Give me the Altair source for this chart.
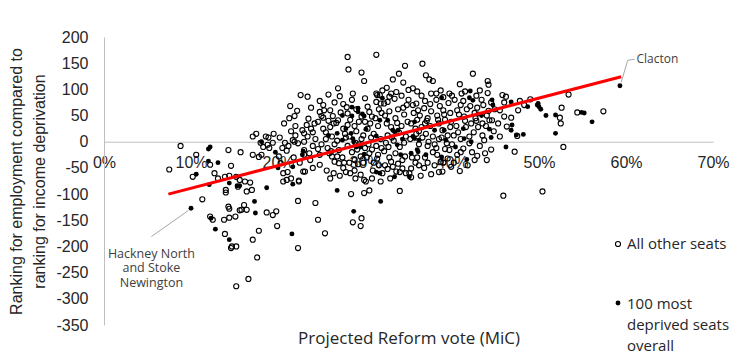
import altair as alt
import pandas as pd

# ---- data: (projected Reform vote %, ranking difference) ----
other_below20 = [
    (7.5, -53), (8.8, -8), (10.6, -25), (10.2, -67), (12.2, -44), (12.7, -60), (14.3, -16),
    (15.7, -20), (14.6, -46), (13.1, -70), (13.9, -67), (14.4, -65), (15.2, -67), (15.6, -73),
    (15.4, -86), (16.2, -76), (16.8, -78), (14.0, -92), (14.0, -97), (16.4, -95), (17.0, -92),
    (18.0, -2), (18.8, -6), (19.4, -2), (18.3, -10), (17.1, 10), (17.5, 15), (18.6, 10), (18.9, 8),
    (19.0, -12), (18.1, -25), (17.1, -25), (17.8, -29), (11.3, -110), (16.1, -121), (16.4, -130),
    (15.8, -130), (15.6, -131), (15.1, -143), (14.4, -145), (13.8, -149), (14.3, -124), (14.4, -128),
    (18.7, -135), (19.4, -140), (19.8, -133), (12.2, -143), (12.5, -149), (13.9, -176), (14.7, -200),
    (14.6, -203), (15.2, -200), (19.9, -161), (17.8, -170), (17.1, -187), (17.6, -221), (16.6, -262),
    (15.2, -276), (19.5, 15),
]
other_20_25 = [
    (20.3, -41), (20.6, -60), (21.0, -73), (20.6, -76), (21.0, -17), (21.1, -58), (21.5, -70),
    (22.4, -74), (22.9, -57), (23.1, -57), (24.8, -44), (23.0, -25), (23.6, -22), (23.0, -16),
    (24.8, -25), (21.4, 68), (22.2, 59), (21.9, 49), (22.6, 89), (23.4, 86), (24.8, 78), (25.2, 70),
    (24.8, 57), (25.0, 49), (25.2, 46), (23.3, 32), (23.8, 25), (24.2, 35), (24.6, 38), (25.2, 25),
    (23.0, 16), (23.4, 10), (21.7, 3), (21.9, 0), (22.3, -3), (23.0, 0), (22.0, 12), (22.8, 22),
    (21.2, -8), (20.5, -12), (21.8, -30), (22.5, -40), (24.0, -8), (24.3, 5), (24.6, -14), (23.7, -35),
    (20.8, -2), (21.5, 20), (24.0, 18), (22.3, -113), (24.3, -117), (24.6, -149), (25.4, -175),
    (22.3, -203), (22.4, -76), (23.5, 44), (20.1, -28), (24.0, -50), (23.8, 65), (22.0, 30),
    (20.7, 35), (21.3, 45), (20.2, 8),
]
other_25_30 = [
    (28.0, 162), (28.1, 138), (29.6, 132), (29.9, 116), (26.9, 102), (27.1, 87), (26.3, 49),
    (26.9, 41), (26.7, 36), (26.4, 35), (28.0, 54), (30.0, 83), (25.8, 40), (26.0, 28), (25.5, 18),
    (26.2, 10), (26.8, 2), (27.5, 25), (28.0, 32), (28.8, 30), (29.3, 38), (29.0, 20), (29.8, 12),
    (27.7, 15), (26.5, -5), (25.7, -12), (27.0, -16), (28.0, -8), (28.5, -20), (29.3, -5),
    (26.5, -38), (27.0, -41), (27.6, -40), (28.2, -40), (28.8, -35), (29.2, -43), (29.8, -40),
    (26.2, -28), (27.1, -65), (27.8, -58), (28.8, -55), (29.5, -63), (29.9, -73), (25.6, -55),
    (26.0, -70), (28.4, -100), (29.9, -98), (28.6, -154), (29.6, -146), (29.5, -161), (25.3, 60),
    (26.0, 60), (27.5, 72), (28.5, 80), (29.0, 62), (29.6, 48), (28.3, 42), (27.8, 8), (29.5, -28),
    (25.9, -22), (27.4, -30), (28.9, -70), (28.2, 10), (28.9, -2), (29.6, 5), (29.1, -15), (25.0, -5),
    (25.5, 5), (26.1, -18), (26.8, -28), (27.5, -50), (28.3, -60), (26.4, -60), (27.2, 56),
    (27.9, 66), (28.6, 92), (26.5, 75), (25.8, 90),
]
other_30_35 = [
    (31.3, 166), (30.5, -93), (30.1, -76), (30.8, -70), (31.8, -76), (32.9, -70), (33.6, -57),
    (34.3, -51), (34.7, -60), (34.0, -94), (30.3, 67), (30.5, 57), (31.4, 89), (31.3, 76),
    (31.8, 73), (32.2, 73), (32.6, 76), (33.0, 92), (33.6, 95), (33.2, 119), (33.9, 130), (34.4, 113),
    (34.6, 145), (32.5, 103), (33.4, 82), (34.2, 88), (31.3, 92), (31.7, 89),
    (34.8, 70), (33.8, 62), (32.8, 58), (31.9, 55), (31.2, 45), (30.6, 35), (30.3, 25), (31.5, 30),
    (32.5, 35), (33.5, 45), (34.5, 52), (34.9, 38), (34.2, 30), (31.0, 15), (31.8, 5), (32.4, -2),
    (33.1, 8), (34.0, -10), (34.7, 10), (30.4, -5), (30.8, -15), (31.5, -25), (32.2, -18),
    (32.8, -30), (33.5, -22), (34.3, -35), (30.2, -30), (31.0, -40), (31.6, -45), (32.3, -45),
    (33.0, -38), (33.8, -42), (34.6, -28), (30.9, -55), (32.0, -60), (32.6, -52), (30.0, -12),
    (30.7, 8), (31.3, -8), (31.9, -12), (32.6, 12), (33.3, 2), (33.9, 18), (34.5, -2), (30.5, -22),
    (31.4, -32), (32.7, -10), (33.2, -48), (34.0, -58), (30.0, 38), (30.8, 48), (31.6, 62),
    (32.3, 50), (33.0, 28), (33.7, 36), (34.4, 65), (32.0, 98), (32.8, 86),
]
other_35_40 = [
    (36.6, 149), (37.0, 127), (37.4, 119), (37.8, 116), (38.7, 98), (37.6, 92), (39.7, 92),
    (35.5, 102), (35.0, 99), (36.9, 78), (35.9, 73), (35.5, 70), (36.1, 60), (36.8, 64), (37.5, 72),
    (38.2, 80), (38.6, 68), (39.0, 60), (39.6, 74), (39.8, 55), (38.3, 50), (37.2, 45), (36.0, 42),
    (35.3, 35), (35.8, 25), (36.5, 28), (37.5, 30), (38.5, 35), (39.2, 42), (39.8, 28), (37.0, 15),
    (37.8, 10), (38.5, 5), (39.5, 12), (36.2, -5), (37.2, -8), (38.2, -12), (39.2, -14), (39.7, -16),
    (36.0, -30), (37.2, -40), (35.8, -40), (38.9, -57), (38.5, -58), (37.6, -62), (36.4, -65),
    (35.3, -51), (35.1, -60), (35.3, -68), (38.0, -45), (39.0, -40), (36.8, -50), (38.3, -25),
    (39.5, -32), (36.5, 88), (39.0, 85), (35.2, 5), (35.9, 15), (36.6, 8),
    (37.3, 0), (38.0, -5), (38.8, 8), (39.4, -3), (35.4, -30), (36.2, -45), (36.9, -30), (37.8, -20),
    (38.7, -38), (35.0, 80), (35.6, 55), (36.3, 50), (36.9, 35), (37.6, 58), (38.4, 42), (39.1, 52),
    (39.9, 38), (36.0, 96), (38.2, 92), (36.2, 20), (37.1, 40), (38.9, 22),
]
other_40_50 = [
    (42.4, 130), (44.1, 116), (44.2, 109), (40.9, 110), (41.1, 92), (43.2, 98), (44.1, 93),
    (42.6, 55), (44.2, 59), (44.3, 41), (44.6, 41), (43.7, 3), (40.3, 80),
    (41.0, 70), (41.7, 62), (40.8, 52), (41.5, 40), (42.2, 35), (43.0, 28), (42.5, 18), (40.5, 30),
    (40.2, 12), (41.0, 5), (42.0, 10), (43.5, 12), (44.8, 20), (43.6, 70), (44.5, 75), (42.8, 88),
    (40.9, -56), (42.9, -27), (41.3, -13), (42.0, -3), (43.2, -8), (44.5, -15), (40.6, -25),
    (41.8, -45), (40.2, -40), (42.3, -20), (44.0, -35), (40.0, -5), (41.4, 48), (43.9, 30),
    (42.9, 65), (40.7, 18), (41.6, 28), (42.8, 40), (43.5, 35), (39.9, -48), (41.0, -20), (42.6, -35),
    (43.8, -22), (40.6, 60), (41.3, 78), (42.1, 68), (42.7, 45), (43.4, 80), (44.0, 50), (44.9, 62),
    (40.0, 88), (41.5, 96),
    (45.8, 89), (46.2, 86), (49.0, 81), (47.8, 78), (47.6, 60), (46.0, 48), (46.8, 46), (46.3, 29),
    (47.5, 11), (47.2, -19), (45.9, -103), (45.5, 60), (46.0, 75), (48.3, 70), (45.3, 35), (45.5, 10),
]
other_50_plus = [
    (53.4, 90), (52.6, 65), (52.4, 46), (52.5, 35), (54.4, 56), (57.4, 58), (52.8, -10), (50.4, -95),
]

deprived_seats = [
    (12.2, -10), (12.0, -14), (12.0, -37), (13.1, -40), (10.6, -62), (12.1, -82), (14.4, -79),
    (15.3, -84), (15.6, -84), (18.7, -88), (19.7, -20), (18.1, 0), (10.0, -127), (17.3, -114),
    (17.4, -136), (12.3, -146), (12.8, -167), (14.4, -187),
    (20.0, -50), (21.7, -48), (21.7, -81), (21.6, -176), (22.8, -25), (22.9, -18), (26.8, -93),
    (28.7, -133), (25.8, 12), (26.8, 16), (27.8, 25), (28.4, 16), (28.6, 6), (27.4, 3), (28.7, 0),
    (29.0, -10), (29.5, -10), (29.9, -24), (27.4, 50), (28.5, 49), (28.5, 66), (29.2, 64), (29.2, 57),
    (29.7, 53), (29.9, 49),
    (30.1, 24), (31.8, -114), (31.3, -58), (31.7, -60), (33.4, -67), (33.7, -6), (35.3, -22),
    (36.1, -19), (37.0, -25), (36.0, -15), (34.1, -25), (38.8, -29), (35.1, -67), (32.0, 83),
    (31.7, 41), (32.6, 41), (33.2, 22), (33.4, 19), (33.8, 22), (31.3, 11), (35.5, 10), (35.7, 6),
    (36.2, 3), (34.3, 5), (38.0, 22), (38.8, 84), (39.1, 22), (39.3, 3), (35.7, 38),
    (40.4, -10), (41.7, -34), (41.3, 25), (41.4, 6), (42.0, 84), (42.1, 97), (42.4, 79), (42.2, 0),
    (43.0, 53), (43.4, 50), (44.3, 24), (44.5, 8), (44.6, 80), (44.7, 70), (46.8, 76), (46.9, 32),
    (46.8, 22), (47.4, 13), (48.2, 14), (46.2, -10), (48.7, 67), (49.8, 70),
    (49.9, 73), (50.0, 67), (50.2, 62), (50.8, 50), (51.9, 51), (51.9, 16), (54.9, 56), (55.2, 55),
    (56.1, 38), (59.3, 107),
]

trend_vote = [7.4, 59.45]
trend_rank = [-100, 124]

x_ticks = [0, 10, 20, 30, 40, 50, 60, 70]
y_ticks = [-350, -300, -250, -200, -150, -100, -50, 0, 50, 100, 150, 200]

clacton_label = "Clacton"
clacton_pos = (61.2, 157.5)
hackney_lines = ["Hackney North", "and Stoke", "Newington"]
hackney_pos = (5.45, -214)

leader_vote = [59.45, 60.2, 9.7]
leader_rank = [113.7, 155.6, -131.4]
leader_vote2 = [60.2, 61.0, 5.45]
leader_rank2 = [155.6, 157.5, -181.0]

legend_other = "All other seats"
legend_deprived = ["100 most", "deprived seats", "overall"]

# ---- frames ----
other_all = (other_below20 + other_20_25 + other_25_30 + other_30_35 + other_35_40
             + other_40_50 + other_50_plus)
df_other = pd.DataFrame(other_all, columns=["vote", "rank"])
df_dep = pd.DataFrame(deprived_seats, columns=["vote", "rank"])
df_trend = pd.DataFrame({"vote": trend_vote, "rank": trend_rank})
df_clac = pd.DataFrame({"vote": [clacton_pos[0]], "rank": [clacton_pos[1]], "label": [clacton_label]})
df_lead = pd.DataFrame({"vote": leader_vote, "rank": leader_rank,
                        "vote2": leader_vote2, "rank2": leader_rank2})
one = pd.DataFrame({"k": [0]})

W, H = 609, 288
Y0 = H * 200 / 550  # pixel position of rank 0

FONT_NUM = "Liberation Sans"
FONT_TXT = "Open Sans"
TXT = "#262626"

x_scale = alt.Scale(domain=[0, 70], nice=False, zero=False)
y_scale = alt.Scale(domain=[-350, 200], nice=False, zero=False)

x_axis = alt.Axis(values=x_ticks, labelExpr="datum.value + '%'", grid=False, ticks=False,
                  domainColor="#BFBFBF", domainWidth=1, labelFont=FONT_NUM, labelFontSize=16,
                  labelColor=TXT, labelPadding=13, labelFlush=False, labelOverlap=False,
                  offset=-(H - Y0),
                  title="Projected Reform vote (MiC)", titleFont=FONT_TXT, titleFontSize=17,
                  titleFontWeight="normal", titleColor=TXT, titleX=W / 2, titleY=H - Y0 + 13,
                  titleBaseline="middle", titleAlign="center")
y_axis = alt.Axis(values=y_ticks, labelExpr="datum.value + ''", grid=False, ticks=False,
                  domainColor="#BFBFBF", domainWidth=1, labelFont=FONT_NUM, labelFontSize=16,
                  labelColor=TXT, labelPadding=16, labelFlush=False, labelOverlap=False,
                  title=["Ranking for employment compared to", "ranking for income deprivation"],
                  titleFont=FONT_NUM, titleFontSize=16, titleFontWeight="normal", titleColor=TXT,
                  titlePadding=8, titleLineHeight=23)

X = alt.X("vote:Q", scale=x_scale, axis=x_axis)
Y = alt.Y("rank:Q", scale=y_scale, axis=y_axis)

other_layer = alt.Chart(df_other).mark_point(shape="circle", filled=False, color="black",
                                             strokeWidth=1.1, size=26, opacity=1).encode(x=X, y=Y)
dep_layer = alt.Chart(df_dep).mark_circle(color="black", size=24, opacity=1).encode(x=X, y=Y)
trend_layer = alt.Chart(df_trend).mark_line(color="#FF0000", strokeWidth=3).encode(x=X, y=Y)
lead_layer = alt.Chart(df_lead).mark_rule(color="#A6A6A6", strokeWidth=1).encode(
    x=X, y=Y, x2="vote2:Q", y2="rank2:Q")
clac_layer = alt.Chart(df_clac).mark_text(font=FONT_TXT, fontSize=12, color="#404040",
                                          align="left", baseline="middle").encode(
    x=X, y=Y, text="label")

hack_layers = []
for i, line in enumerate(hackney_lines):
    df_h = pd.DataFrame({"vote": [hackney_pos[0]], "rank": [hackney_pos[1]], "label": [line]})
    hack_layers.append(
        alt.Chart(df_h).mark_text(font=FONT_TXT, fontSize=12.5, color="#404040", align="center",
                                  baseline="middle", dy=14.5 * i).encode(x=X, y=Y, text="label"))

leg_pt1 = alt.Chart(one).mark_point(shape="circle", filled=False, color="black", strokeWidth=1.1,
                                    size=26, opacity=1).encode(x=alt.value(514), y=alt.value(207))
leg_pt2 = alt.Chart(one).mark_circle(color="black", size=24, opacity=1).encode(
    x=alt.value(514), y=alt.value(266))
leg_t1 = alt.Chart(one).mark_text(font=FONT_TXT, fontSize=15, color=TXT, align="left",
                                  baseline="middle").encode(
    x=alt.value(523), y=alt.value(207), text=alt.value(legend_other))
leg_t2 = alt.Chart(one).mark_text(font=FONT_TXT, fontSize=15, color=TXT, align="left",
                                  baseline="middle", lineHeight=21).encode(
    x=alt.value(523), y=alt.value(267), text=alt.value(legend_deprived))

chart = alt.layer(other_layer, dep_layer, trend_layer, lead_layer, clac_layer, *hack_layers,
                  leg_pt1, leg_pt2, leg_t1, leg_t2).properties(
    width=W, height=H,
    autosize=alt.AutoSizeParams(type="none"),
    padding={"left": 96, "top": 29, "right": 21, "bottom": 34},
).configure(background="white").configure_view(stroke=None)

chart.save("out.html", embed_options={"renderer": "svg", "actions": False})
